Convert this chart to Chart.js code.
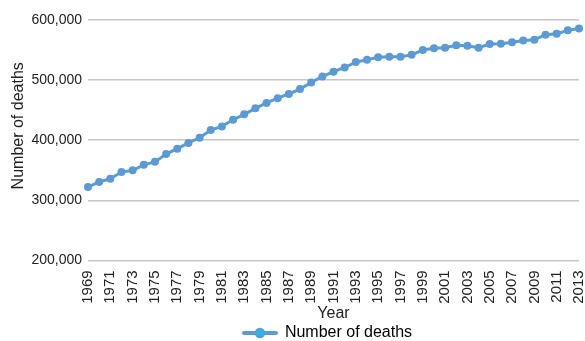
<!DOCTYPE html>
<html>
<head>
<meta charset="utf-8">
<script src="https://cdn.jsdelivr.net/npm/chart.js@4/dist/chart.umd.min.js"></script>
<style>
  html, body { margin: 0; padding: 0; background: #fff; }
  #wrap { width: 585px; height: 341px; }
</style>
</head>
<body>
<div id="wrap"><canvas id="deathsChart"></canvas></div>
<script>
// ========================== DATA ==============================
const years = [];
for (let y = 1969; y <= 2013; y++) years.push(String(y));

const deaths = [
  322000, 330500, 336000, 347000, 350000, 359000, 364000, 377000, 386000, 395500,
  404000, 417000, 423000, 434000, 443000, 453000, 462000, 470000, 477000, 485000,
  496000, 506000, 514000, 521000, 530000, 534000, 538000, 539000, 539000, 542000,
  550000, 553000, 554000, 558000, 557000, 554000, 560000, 560500, 563000, 566000,
  567000, 575500, 577000, 583000, 586000
];

const seriesName = 'Number of deaths';
const yTitle = 'Number of deaths';
const xTitle = 'Year';
const yTicks = [200000, 300000, 400000, 500000, 600000];

const FONT = '"Liberation Sans", Arial, sans-serif';

// ========================== LEGEND ICON ========================
function legendIcon() {
  const c = document.createElement('canvas');
  c.width = 36; c.height = 12;
  const ctx = c.getContext('2d');
  ctx.strokeStyle = '#5B9BD5';
  ctx.lineWidth = 4;
  ctx.lineCap = 'round';
  ctx.beginPath();
  ctx.moveTo(2, 6); ctx.lineTo(34, 6);
  ctx.stroke();
  ctx.fillStyle = '#2EB3E8';
  ctx.strokeStyle = '#5B9BD5';
  ctx.lineWidth = 1.5;
  ctx.beginPath();
  ctx.arc(18, 6, 4.5, 0, Math.PI * 2);
  ctx.fill();
  ctx.stroke();
  return c;
}

// y title sits a little above the middle of the plot in the original
const yTitlePlugin = {
  id: 'yTitle',
  afterLayout(chart) {
    // legend is centred under the plot, not the whole canvas
    chart.legend.left += 35;
    chart.legend.right += 35;
  },
  afterDraw(chart) {
    const { ctx, chartArea } = chart;
    ctx.save();
    ctx.translate(19, chartArea.top + (chartArea.bottom - chartArea.top) * 0.44);
    ctx.rotate(-Math.PI / 2);
    ctx.font = '16px ' + FONT;
    ctx.fillStyle = '#222';
    ctx.textAlign = 'center';
    ctx.textBaseline = 'middle';
    ctx.fillText(yTitle, 0, 0);
    ctx.restore();
  }
};

// ========================== CHART =============================
Chart.defaults.font.family = FONT;
Chart.defaults.color = '#222';

new Chart(document.getElementById('deathsChart'), {
  type: 'line',
  data: {
    labels: years,
    datasets: [{
      label: seriesName,
      data: deaths,
      borderColor: '#5B9BD5',
      backgroundColor: '#5B9BD5',
      borderWidth: 3,
      pointRadius: 4,
      pointBorderWidth: 0,
      tension: 0
    }]
  },
  plugins: [yTitlePlugin],
  options: {
    responsive: true,
    maintainAspectRatio: false,
    animation: false,
    layout: { padding: { top: 20, right: 0, left: 0, bottom: -10 } },
    plugins: {
      tooltip: { enabled: false },
      legend: {
        position: 'bottom',
        labels: {
          font: { size: 16 },
          color: '#222',
          usePointStyle: true,
          pointStyleWidth: 34,
          padding: 0,
          generateLabels: chart => [{
            text: seriesName,
            pointStyle: legendIcon(),
            fillStyle: '#5B9BD5',
            strokeStyle: '#5B9BD5',
            lineWidth: 0,
            datasetIndex: 0
          }]
        }
      }
    },
    scales: {
      x: {
        grid: { display: false },
        border: { display: false },
        title: { display: true, text: xTitle, font: { size: 16 }, color: '#222', padding: { top: -2, bottom: 2 } },
        ticks: {
          autoSkip: false,
          maxRotation: 90,
          minRotation: 90,
          padding: 2,
          font: { size: 15 },
          color: '#222',
          callback: function (val, i) { return i % 2 === 0 ? this.getLabelForValue(val) : ''; }
        },
        afterFit: scale => { scale.paddingRight = 6; }
      },
      y: {
        min: yTicks[0],
        max: yTicks[yTicks.length - 1],
        afterBuildTicks: axis => { axis.ticks = yTicks.map(v => ({ value: v })); },
        afterFit: scale => { scale.width = 88; },
        grid: { color: '#c6c6c6', lineWidth: 1.5, drawTicks: false },
        border: { display: false },
        ticks: {
          padding: 6,
          font: { size: 14 },
          color: '#222',
          callback: v => v.toLocaleString('en-US')
        }
      }
    }
  }
});
</script>
</body>
</html>
